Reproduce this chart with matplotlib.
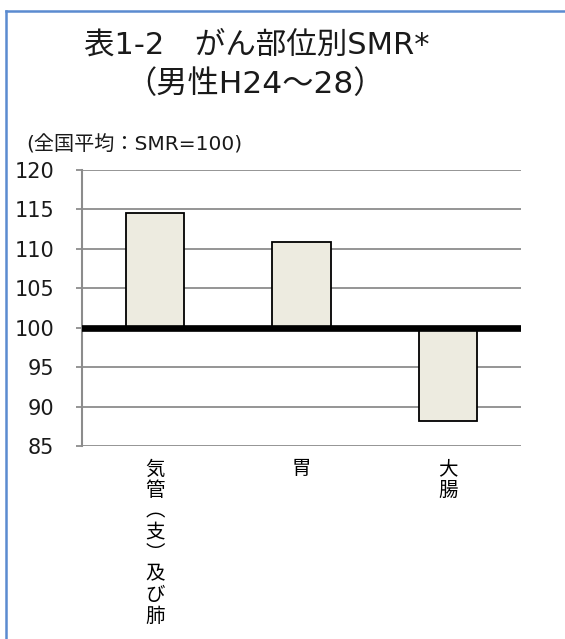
import matplotlib
matplotlib.use("Agg")
import matplotlib.pyplot as plt
from matplotlib.lines import Line2D

plt.rcParams['font.family'] = ['DejaVu Sans', 'Noto Sans CJK JP']
CJK = ['Noto Sans CJK JP', 'DejaVu Sans']

# Data
categories = ["気\n管\n︵\n支\n︶\n及\nび\n肺", "胃", "大\n腸"]
smr_values = [114.6, 110.9, 88.2]
baseline = 100
y_ticks = [85, 90, 95, 100, 105, 110, 115, 120]

W, H = 565, 639
fig = plt.figure(figsize=(W / 100, H / 100), dpi=100)
fig.patch.set_facecolor("white")

ax = fig.add_axes([82 / W, 1 - 446 / H, (521 - 82) / W, (446 - 170) / H])

x = list(range(len(categories)))
heights = [v - baseline for v in smr_values]
ax.bar(x, heights, bottom=baseline, width=0.4, color="#edebe0",
       edgecolor="black", linewidth=1.3, zorder=3)

ax.axhline(baseline, color="black", linewidth=4.8, zorder=4)

ax.set_xlim(-0.5, len(categories) - 0.5)
ax.set_ylim(85, 120)
ax.set_yticks(y_ticks)
ax.set_yticklabels([str(t) for t in y_ticks], fontsize=15, color="#1a1a1a")
ax.yaxis.grid(True, color="#8c8c8c", linewidth=1.3, zorder=0)
ax.set_axisbelow(True)
ax.tick_params(axis="y", direction="out", length=4, width=1.3, color="#8c8c8c", pad=16)

ax.set_xticks(x)
ax.set_xticklabels(categories, fontsize=14, linespacing=1.0, va="top", family=CJK)
ax.tick_params(axis="x", length=0, pad=9)

for side in ("top", "right", "bottom"):
    ax.spines[side].set_visible(False)
ax.spines["left"].set_color("#8c8c8c")
ax.spines["left"].set_linewidth(1.5)

# Titles
fig.text(257 / W, 1 - 45 / H, "表1-2　がん部位別SMR*", fontsize=22,
         ha="center", va="center", color="#1a1a1a")
fig.text(255 / W, 1 - 84 / H, "（男性H24～28）", fontsize=22.5,
         ha="center", va="center", color="#1a1a1a")
fig.text(26 / W, 1 - 145 / H, "(全国平均：SMR=100)", fontsize=14.5,
         ha="left", va="center", color="#1a1a1a")

# Frame border
border = "#5b8bd0"
fig.add_artist(Line2D([6 / W, 6 / W], [0, 1 - 11 / H], color=border, linewidth=1.8,
                      transform=fig.transFigure))
fig.add_artist(Line2D([6 / W, 1], [1 - 11 / H, 1 - 11 / H], color=border, linewidth=1.8,
                      transform=fig.transFigure))

fig.savefig("out.png", dpi=100)
